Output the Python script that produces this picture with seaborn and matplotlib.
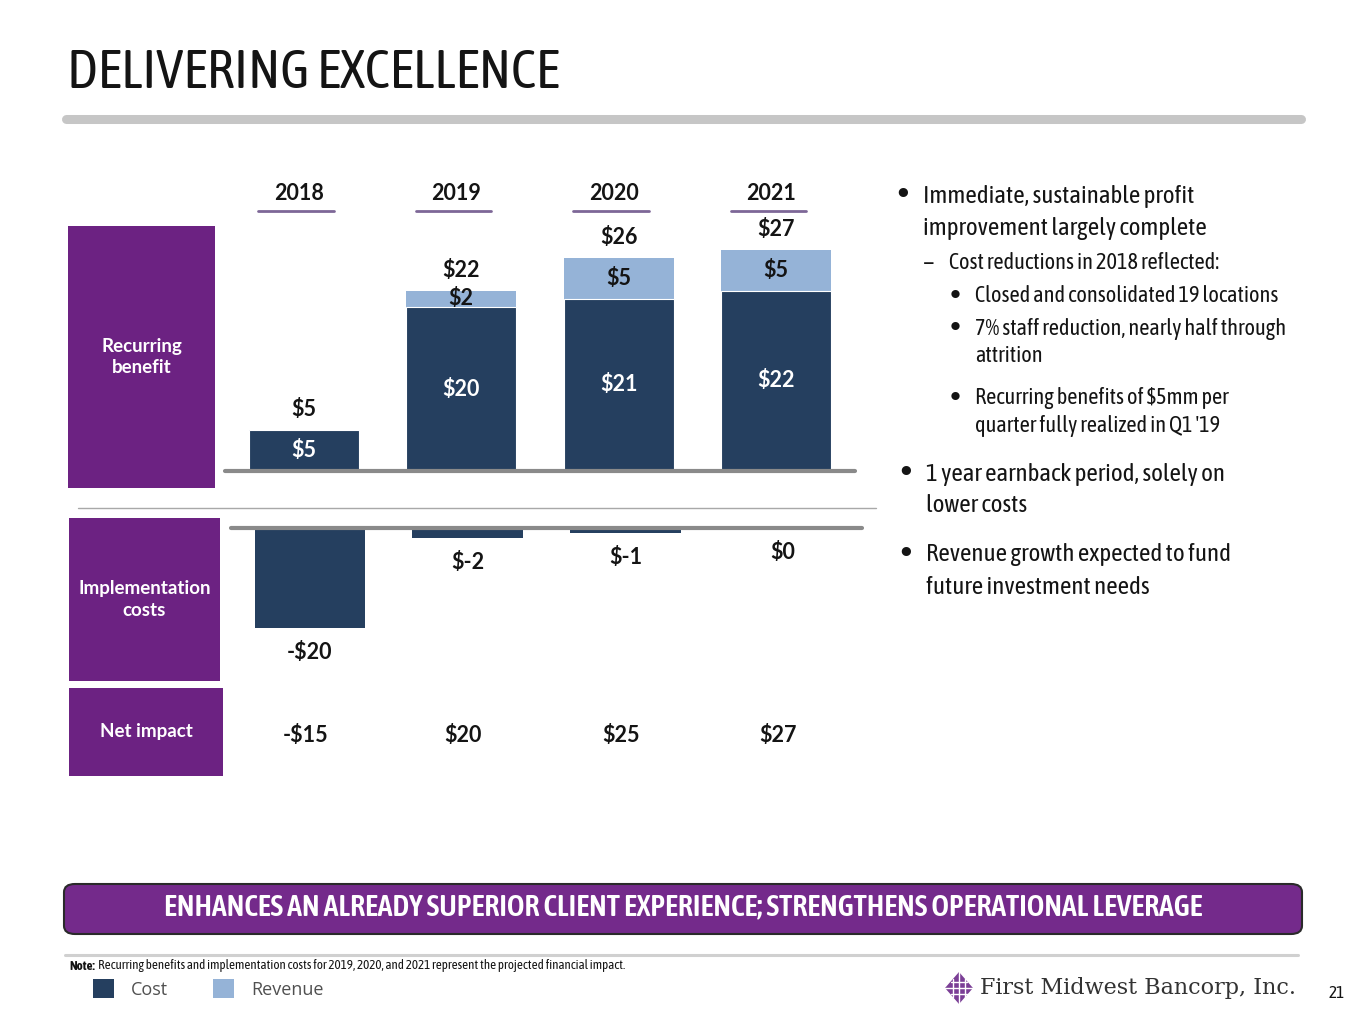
import matplotlib
matplotlib.use("Agg")
import matplotlib.pyplot as plt
from matplotlib.patches import Rectangle, FancyBboxPatch, Polygon
from matplotlib.lines import Line2D
from matplotlib.transforms import blended_transform_factory
import pandas as pd
import seaborn as sns

# values
years = ["2018", "2019", "2020", "2021"]
cost_benefit = [5, 20, 21, 22]
revenue_benefit = [0, 2, 5, 5]
total_labels = ["$5", "$22", "$26", "$27"]
cost_labels = ["$5", "$20", "$21", "$22"]
revenue_labels = ["", "$2", "$5", "$5"]
impl_costs = [-20, -2, -1, 0]
impl_labels = ["-$20", "$-2", "$-1", "$0"]
net_labels = ["-$15", "$20", "$25", "$27"]
row_titles = ["Recurring\nbenefit", "Implementation\ncosts", "Net impact"]

title = "DELIVERING EXCELLENCE"
banner = "ENHANCES AN ALREADY SUPERIOR CLIENT EXPERIENCE; STRENGTHENS OPERATIONAL LEVERAGE"
note = "Recurring benefits and implementation costs for 2019, 2020, and 2021 represent the projected financial impact."
legend_labels = ["Cost", "Revenue"]
company = "First Midwest Bancorp, Inc."
page = "21"

NAVY = "#253f5f"
LIGHT = "#95b3d7"
PURPLE = "#6c2282"
BANNER = "#742a8b"
GRAY = "#8a8a8a"
INK = "#141414"

sns.set_theme(style="white")
NARROW = ["Asap Condensed", "DejaVu Sans"]
plt.rcParams["font.family"] = ["Lato", "DejaVu Sans"]

W, H = 1365, 1024
fig = plt.figure(figsize=(W / 100, H / 100), dpi=100)


def fx(px):
    return px / W


def fy(py):
    return 1 - py / H


def axes_px(left, top, right, bottom):
    return fig.add_axes([fx(left), fy(bottom), (right - left) / W, (bottom - top) / H])


def hline(x0, x1, y, **kw):
    fig.add_artist(Line2D([fx(x0), fx(x1)], [fy(y), fy(y)], transform=fig.transFigure, **kw))


# title and header rule
fig.text(fx(67), fy(73), title, family=NARROW, fontsize=39.5, color=INK, va="center", ha="left")
hline(66, 1301, 119, lw=6.5, color="#c6c6c6", solid_capstyle="round")

num_font = dict(fontsize=15.5, fontweight="bold", family=["Lato", "DejaVu Sans"])

# ---- recurring benefit (stacked) ----
df = pd.DataFrame({"year": years, "cost": cost_benefit, "revenue": revenue_benefit})
df["total"] = df["cost"] + df["revenue"]

ax_top = axes_px(225, 230, 855, 471)
sns.barplot(data=df, x="year", y="total", color=LIGHT, width=0.7, saturation=1,
            linewidth=0, errorbar=None, ax=ax_top)
sns.barplot(data=df, x="year", y="cost", color=NAVY, width=0.7, saturation=1,
            edgecolor="white", linewidth=0.8, errorbar=None, ax=ax_top)
ax_top.set_xlim(-0.5, 3.5)
ax_top.set_ylim(0, (471 - 230) / 8.2)
ax_top.axhline(0, color=GRAY, lw=3, zorder=5, clip_on=False)
ax_top.axis("off")

xt = ax_top.get_xaxis_transform()
for i, row in df.iterrows():
    ax_top.annotate(total_labels[i], (i, row.total), xytext=(0, 7), textcoords="offset points",
                    ha="center", va="bottom", color=INK, **num_font)
    ax_top.text(i, row.cost / 2, cost_labels[i], ha="center", va="center", color="white", **num_font)
    if row.revenue:
        ax_top.text(i, row.cost + row.revenue / 2, revenue_labels[i], ha="center", va="center",
                    color=INK, **num_font)
    ax_top.text(i - 0.03, 1.1535, years[i], transform=xt, ha="center", va="center", color=INK,
                clip_on=False, **num_font)
    ax_top.add_line(Line2D([i - 0.29, i + 0.19], [1.079, 1.079], transform=xt, color="#7d6797",
                           lw=2, clip_on=False))

# separator
hline(78, 876, 508, lw=1, color="#a8a8a8")

# ---- implementation costs ----
ax_bot = axes_px(231, 528, 862, 690)
sns.barplot(x=years, y=impl_costs, color=NAVY, width=0.7, saturation=1, linewidth=0,
            errorbar=None, ax=ax_bot)
ax_bot.set_xlim(-0.5, 3.5)
ax_bot.set_ylim(-(690 - 528) / 5, 0)
ax_bot.axhline(0, color=GRAY, lw=3, zorder=5, clip_on=False)
ax_bot.axis("off")
for i, v in enumerate(impl_costs):
    ax_bot.annotate(impl_labels[i], (i, v), xytext=(0, -10), textcoords="offset points",
                    ha="center", va="top", color=INK, **num_font)

# net impact row
bt = blended_transform_factory(ax_bot.transData, fig.transFigure)
for i, lab in enumerate(net_labels):
    ax_bot.text(i - 0.03, fy(736), lab, transform=bt, ha="center", va="center", color=INK,
                clip_on=False, **num_font)

# purple row headers
boxes = [(68, 226, 215, 488), (69, 518, 220, 681), (69, 688, 223, 776)]
for (l, t, r, b), lab in zip(boxes, row_titles):
    fig.add_artist(Rectangle((fx(l), fy(b)), (r - l) / W, (b - t) / H, transform=fig.transFigure,
                             facecolor=PURPLE, edgecolor="none"))
    fig.text(fx((l + r) / 2), fy((t + b) / 2), lab, ha="center", va="center", color="white",
             fontsize=13.5, fontweight="bold", linespacing=1.3)

# ---- commentary on the right ----
notes = [
    (903, 923, 196, 32, "•", ["Immediate, sustainable profit", "improvement largely complete"], 18),
    (929, 949, 263, 28, "–", ["Cost reductions in 2018 reflected:"], 16),
    (955, 975, 296, 28, "•", ["Closed and consolidated 19 locations"], 16),
    (955, 975, 329, 27, "•", ["7% staff reduction, nearly half through", "attrition"], 16),
    (955, 975, 398, 28, "•", ["Recurring benefits of $5mm per", "quarter fully realized in Q1 '19"], 16),
    (906, 926, 474, 32, "•", ["1 year earnback period, solely on", "lower costs"], 18),
    (906, 926, 555, 32, "•", ["Revenue growth expected to fund", "future investment needs"], 18),
]
for bx, tx, y0, step, mark, lines, size in notes:
    fig.text(fx(bx), fy(y0), mark, family=["DejaVu Sans"], fontsize=size * 1.05, color=INK,
             ha="center", va="center", fontweight="bold" if mark == "•" else "normal")
    for k, line in enumerate(lines):
        fig.text(fx(tx), fy(y0 + k * step), line, family=NARROW, fontsize=size, color=INK,
                 ha="left", va="center")

# ---- bottom banner ----
fig.add_artist(FancyBboxPatch((fx(64), fy(934)), (1302 - 64) / W, (934 - 884) / H,
                              boxstyle="round,pad=0,rounding_size=0.008", transform=fig.transFigure,
                              facecolor=BANNER, edgecolor="#2a2a2a", lw=1.5))
fig.text(fx(683), fy(907), banner, family=NARROW, fontsize=21.5, fontweight=600, color="white",
         ha="center", va="center")

hline(65, 1298, 955, lw=2.2, color="#d0d0d0")

# footnote
nt = fig.text(fx(69), fy(966), "Note:", family=NARROW, fontsize=9.35, fontweight="bold", color=INK,
              ha="left", va="center")
fig.canvas.draw()
ext = nt.get_window_extent()
fig.text(ext.x1 / W + fx(3), fy(966), note, family=NARROW, fontsize=9.35, color=INK, ha="left", va="center")

# legend
for x0, col, lab in [(93, NAVY, legend_labels[0]), (213, LIGHT, legend_labels[1])]:
    fig.add_artist(Rectangle((fx(x0), fy(998)), 21 / W, 19 / H, transform=fig.transFigure,
                             facecolor=col, edgecolor="none"))
    fig.text(fx(x0 + 38), fy(990), lab, family=["Open Sans", "DejaVu Sans"], fontsize=13,
             color="#505050", ha="left", va="center")

# company mark
cx, cy = 959, 988
fig.add_artist(Polygon([(fx(cx - 14), fy(cy)), (fx(cx), fy(cy - 16)), (fx(cx + 14), fy(cy)),
                        (fx(cx), fy(cy + 16))], closed=True, transform=fig.transFigure,
                       facecolor="#7b3f96", edgecolor="none"))
for d in (-6, 0, 6):
    hline(cx - 14 + abs(d), cx + 14 - abs(d), cy + d, lw=1, color="white")
    fig.add_artist(Line2D([fx(cx + d), fx(cx + d)], [fy(cy - 16 + abs(d) * 1.15), fy(cy + 16 - abs(d) * 1.15)],
                          transform=fig.transFigure, lw=1, color="white"))
fig.text(fx(980), fy(988), company, family=["DejaVu Serif"], fontsize=16, color="#333333",
         ha="left", va="center")
fig.text(fx(1337), fy(993), page, family=NARROW, fontsize=12.5, color=INK, ha="center", va="center")

fig.savefig("out.png", dpi=100)
